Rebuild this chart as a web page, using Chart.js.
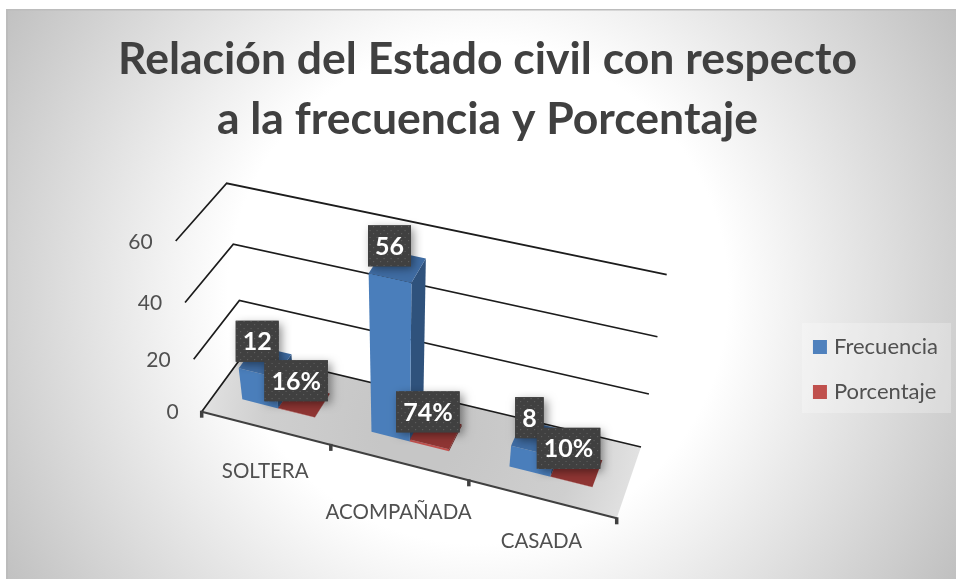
<!DOCTYPE html>
<html>
<head>
<meta charset="utf-8">
<style>html,body{margin:0;padding:0;background:#fff}canvas{display:block}</style>
<script src="https://cdn.jsdelivr.net/npm/chart.js@4"></script>
</head>
<body>
<canvas id="c" width="956" height="579"></canvas>
<script>
const categories = ['SOLTERA', 'ACOMPAÑADA', 'CASADA'];
const frecuencia = [12, 56, 8];
const porcentaje = [0.16, 0.74, 0.10];
const yTickLabels = [0, 20, 40, 60];
const titleLines = ['Relación del Estado civil con respecto', 'a la frecuencia y Porcentaje'];

const FONT = 'Lato, Carlito, sans-serif';
const TEXT = '#505050';

// Screen corners of the 3D box: floor (value 0) and ceiling (axis max)
const floorQuad = [[201.7,411.7],[616.7,518.3],[641,447],[245,352.4]];
const ceilQuad  = [[175.7,241],[644,344.8],[666.7,274.7],[226.7,183.3]];
const persp = 0.125, zFront = 0.31, zBack = 0.69;
const catLabelDrop = [43, 50, 42];

function squareToQuad(q){
  const [x0,y0]=q[0],[x1,y1]=q[1],[x2,y2]=q[2],[x3,y3]=q[3];
  const dx1=x1-x2,dx2=x3-x2,dy1=y1-y2,dy2=y3-y2;
  const sx=x0-x1+x2-x3, sy=y0-y1+y2-y3;
  const d=dx1*dy2-dx2*dy1;
  const g=(sx*dy2-dx2*sy)/d, h=(dx1*sy-sx*dy1)/d;
  const a=x1-x0+g*x1,b=x3-x0+h*x3,c=x0,e=y1-y0+g*y1,f=y3-y0+h*y3,k=y0;
  return (u,v)=>{const w=g*u+h*v+1;return [(a*u+b*v+c)/w,(e*u+f*v+k)/w];};
}
const H0=squareToQuad(floorQuad), H1=squareToQuad(ceilQuad);
function project(u,y,z){
  const p=H0(u,z),q=H1(u,z),t=y/(1+persp*(1-y));
  return [p[0]+(q[0]-p[0])*t,p[1]+(q[1]-p[1])*t];
}
function poly(ctx,pts,fill){
  ctx.beginPath();pts.forEach((p,i)=>i?ctx.lineTo(p[0],p[1]):ctx.moveTo(p[0],p[1]));ctx.closePath();
  ctx.fillStyle=fill;ctx.fill();
}
function path(ctx,pts,color,lw){
  ctx.beginPath();pts.forEach((p,i)=>i?ctx.lineTo(p[0],p[1]):ctx.moveTo(p[0],p[1]));
  ctx.strokeStyle=color;ctx.lineWidth=lw;ctx.stroke();
}
function dotPattern(ctx){
  const c=document.createElement('canvas');c.width=14;c.height=14;
  const g=c.getContext('2d');g.fillStyle='#404040';g.fillRect(0,0,14,14);
  g.fillStyle='#5c5c5c';
  [[2,2],[9,2],[5.5,6],[12.5,6],[2,9],[9,9],[5.5,13],[12.5,13]].forEach(p=>g.fillRect(p[0],p[1],1.2,1.2));
  return ctx.createPattern(c,'repeat');
}

const faces=[
  {front:'#4A7EBB',top:'#3F6CA3',side:'#2F527C'},
  {front:'#C0504D',top:'#8F3533',side:'#6F2A28'}
];

const scene={
  id:'scene3d',
  beforeDraw(chart){
    const ctx=chart.ctx;
    ctx.save();
    ctx.fillStyle='#fff';ctx.fillRect(0,0,956,579);
    const g=ctx.createRadialGradient(478,294,250,478,294,570);
    g.addColorStop(0,'#ffffff');g.addColorStop(1,'#bdbdbd');
    ctx.fillStyle=g;ctx.fillRect(6,9,950,570);
    ctx.fillStyle='#bcbcbc';ctx.fillRect(6,9,2,570);ctx.fillRect(6,9,950,1.5);
    ctx.fillStyle='rgba(255,255,255,0.25)';ctx.fillRect(802,323,149,90);
    ctx.restore();
  },
  beforeDatasetsDraw(chart){
    const ctx=chart.ctx,xs=chart.scales.x,ys=chart.scales.y,a=chart.chartArea;
    const nx=px=>(px-a.left)/a.width, ny=py=>(a.bottom-py)/a.height;
    ctx.save();
    // floor
    const fg=ctx.createRadialGradient(420,432,40,420,432,235);
    fg.addColorStop(0,'#c6c6c6');fg.addColorStop(0.6,'#cfcfcf');fg.addColorStop(1,'#e6e6e6');
    poly(ctx,[project(0,0,0),project(1,0,0),project(1,0,1),project(0,0,1)],fg);
    // gridlines on the walls
    yTickLabels.forEach(v=>{
      const y=ny(ys.getPixelForValue(v));
      path(ctx,[project(0,y,0),project(0,y,1),project(1,y,1)],'#1c1c1c',1.7);
    });
    // front axis and tick marks
    path(ctx,[project(0,0,0),project(1,0,0)],'#404040',2);
    categories.concat(['']).forEach((c,i)=>{
      const p=project(i/categories.length,0,0);
      ctx.fillStyle='#404040';ctx.fillRect(p[0]-1.75,p[1]-1,3.5,7);
    });
    // value axis labels
    ctx.font='21px '+FONT;ctx.fillStyle=TEXT;ctx.textAlign='right';ctx.textBaseline='middle';
    yTickLabels.forEach(v=>{
      const p=project(0,ny(ys.getPixelForValue(v)),0);
      ctx.fillText(String(v),p[0]-23,p[1]+1);
    });
    // category labels
    ctx.font='20.5px '+FONT;ctx.textAlign='center';
    categories.forEach((c,i)=>{
      const p=project(nx(xs.getPixelForValue(i)),0,0);
      ctx.fillText(c,p[0],p[1]+catLabelDrop[i]);
    });
    // bars
    const metas=chart.data.datasets.map((d,i)=>chart.getDatasetMeta(i));
    categories.forEach((c,j)=>{
      metas.forEach((m,i)=>{
        const b=m.data[j],L=nx(b.x-b.width/2),R=nx(b.x+b.width/2),T=ny(b.y),B=ny(b.base),f=faces[i];
        poly(ctx,[project(R,B,zFront),project(R,B,zBack),project(R,T,zBack),project(R,T,zFront)],f.side);
        poly(ctx,[project(L,B,zFront),project(R,B,zFront),project(R,T,zFront),project(L,T,zFront)],f.front);
        poly(ctx,[project(L,T,zFront),project(R,T,zFront),project(R,T,zBack),project(L,T,zBack)],f.top);
      });
    });
    // data labels
    const pat=dotPattern(ctx);
    metas.forEach((m,i)=>{
      m.data.forEach((b,j)=>{
        const text=i===0?String(frecuencia[j]):Math.round(porcentaje[j]*100)+'%';
        const p=project(nx(b.x),ny(b.y),(zFront+zBack)/2);
        const cx=p[0]-8,cy=p[1]-20;
        ctx.font='bold 25px '+FONT;
        const w=ctx.measureText(text).width+14,h=41;
        ctx.save();
        ctx.shadowColor='rgba(0,0,0,0.45)';ctx.shadowBlur=9;ctx.shadowOffsetX=3;ctx.shadowOffsetY=3;
        ctx.fillStyle='#404040';ctx.fillRect(cx-w/2,cy-h/2,w,h);
        ctx.restore();
        ctx.fillStyle=pat;ctx.fillRect(cx-w/2,cy-h/2,w,h);
        ctx.fillStyle='#fff';ctx.textAlign='center';ctx.textBaseline='middle';
        ctx.fillText(text,cx,cy+1);
      });
    });
    ctx.restore();
    return false;
  }
};

new Chart(document.getElementById('c'),{
  type:'bar',
  data:{labels:categories,datasets:[
    {label:'Frecuencia',data:frecuencia,backgroundColor:'#4F81BD',borderColor:'#4F81BD',borderWidth:8},
    {label:'Porcentaje',data:porcentaje,backgroundColor:'#C0504D',borderColor:'#C0504D',borderWidth:8}
  ]},
  plugins:[scene],
  options:{
    responsive:false,animation:false,
    layout:{padding:{left:27,right:8,top:30,bottom:153}},
    datasets:{bar:{categoryPercentage:0.57,barPercentage:1}},
    scales:{
      x:{display:false},
      y:{display:false,min:0,max:60,ticks:{stepSize:20}}
    },
    plugins:{
      title:{display:true,text:titleLines,color:'#404040',font:{family:FONT,size:44.5,weight:'bold',lineHeight:1.348},padding:{top:0,bottom:10}},
      legend:{display:true,position:'right',align:'end',labels:{boxWidth:6,boxHeight:6,padding:23,color:TEXT,font:{family:FONT,size:22}}},
      tooltip:{enabled:false}
    }
  }
});
</script>
</body>
</html>
